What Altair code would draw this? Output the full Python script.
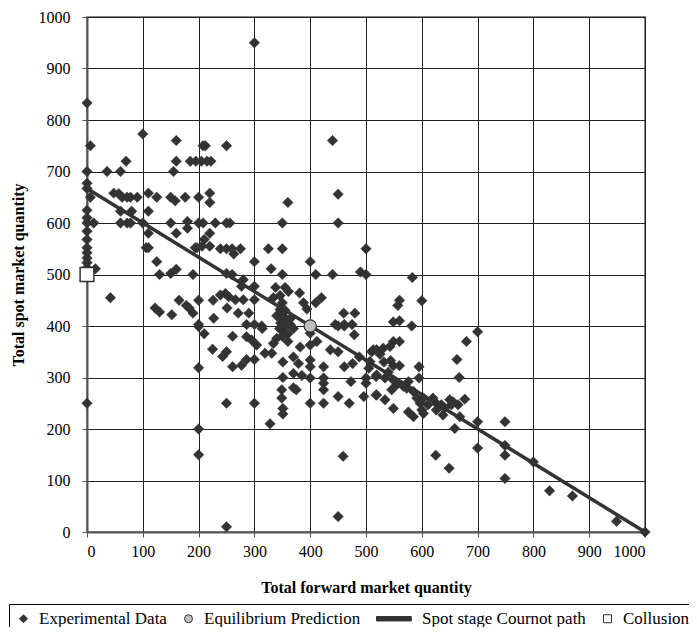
import altair as alt
import pandas as pd

exp_x = [300,0,6,100,160,208,212,250,440,
 70,160,185,195,205,215,222,
 0,36,60,155,450,360,0,0,6,
 48,57,63,72,78,90,
 110,125,150,158,176,200,220,220,
 60,80,110,60,72,78,12,0,
 100,150,180,180,200,208,230,250,256,350,450,
 110,160,220,210,206,
 0,0,0,0,0,0,0,0,0,15,
 106,110,194,197,220,
 239,250,260,263,275,325,350,500,
 125,130,150,160,190,250,260,
 300,330,350,400,410,440,490,500,
 42,122,130,152,165,178,183,190,200,200,
 227,226,239,248,254,251,266,271,280,277,280,290,300,300,
 286,300,313,
 334,338,346,350,355,361,346,352,381,388,394,410,420,
 347,356,364,460,480,445,461,475,
 0,200,210,225,243,250,261,261,277,286,286,300,304,295,314,319,331,
 200,200,200,250,300,250,328,
 334,340,349,351,351,349,349,351,351,370,375,370,379,385,370,382,
 400,400,400,400,400,400,412,424,424,424,424,424,436,450,450,461,473,470,476,479,450,461,
 459,450,
 496,500,500,507,518,518,510,519,
 582,549,700,680,663,667,595,595,549,531,513,532,549,519,534,549,519,534,549,555,567,576,573,546,
 585,591,597,603,600,603,585,576,611,620,626,626,635,638,641,650,653,656,665,677,659,668,
 700,700,749,749,749,749,800,829,870,949,1000,
 625,649,
 583,560,557,600,560,560,543,544,560,
 350,355,345,360,340,365,355,370,360,350,
 488,505,525,540]
exp_y = [950,833,750,773,760,750,750,750,760,
 720,720,720,720,720,720,720,
 700,700,700,700,656,640,677,667,650,
 658,657,650,650,650,650,
 658,650,650,643,650,650,658,640,
 623,623,623,600,600,600,600,600,
 600,600,603,590,600,600,600,600,600,600,600,
 580,580,580,568,555,
 625,610,584,568,552,542,532,523,513,511,
 552,552,552,552,555,
 550,550,550,540,550,550,550,550,
 525,500,502,510,500,502,500,
 525,511,500,525,500,500,505,500,
 455,435,427,422,450,440,435,425,450,403,
 415,450,460,463,457,435,451,425,490,477,451,425,477,451,
 403,403,400,
 455,475,459,445,475,467,432,419,464,445,433,445,455,
 406,406,403,425,425,403,403,403,
 250,399,385,355,341,350,321,380,324,379,335,335,363,373,395,347,347,
 319,200,150,250,250,10,210,
 366,376,392,330,300,276,260,240,229,280,276,308,327,304,340,359,
 386,363,334,321,299,250,370,321,299,289,276,250,354,350,263,321,292,250,327,383,400,400,
 147,30,
 263,289,299,331,302,266,350,354,
 400,408,389,370,335,300,321,299,370,357,354,330,323,305,299,295,266,257,240,286,283,292,279,276,
 273,260,250,260,237,230,224,233,247,260,250,237,247,227,241,257,247,253,247,258,201,224,
 214,163,214,168,149,104,136,80,70,21,0,
 149,124,
 494,450,440,449,410,370,360,333,323,
 410,400,395,385,420,415,430,395,370,380,
 340,318,345,310]

cournot_x = [0, 1000]
cournot_y = [667, 0]
eq_x = [400]
eq_y = [400]
coll_x = [0]
coll_y = [500]

series = ["Experimental Data", "Equilibrium Prediction", "Spot stage Cournot path", "Collusion"]
shapes = ["diamond", "circle", "M-7.5,-0.55H1.2V0.55H-7.5Z", "square"]
fills = ["#333333", "#bfbfbf", "#333333", "#ffffff"]
strokes = ["#333333", "#333333", "#333333", "#333333"]

df_exp = pd.DataFrame({"x": exp_x, "y": exp_y, "series": series[0]})
df_line = pd.DataFrame({"x": cournot_x, "y": cournot_y, "series": series[2]})
df_eq = pd.DataFrame({"x": eq_x, "y": eq_y, "series": series[1]})
df_coll = pd.DataFrame({"x": coll_x, "y": coll_y, "series": series[3]})

FONT = "Liberation Serif"

xs = alt.Scale(domain=[0, 1000], nice=False)
ys = alt.Scale(domain=[0, 1000], nice=False)
xax = alt.Axis(values=list(range(0, 1001, 100)), title="Total forward market quantity", format="d",
               grid=True, gridColor="#222", gridWidth=1, domainColor="#555", domainWidth=2,
               tickColor="#555", tickSize=5, labelPadding=6, titlePadding=20,
               labelFont=FONT, labelFontSize=16, labelColor="#000",
               titleFont=FONT, titleFontSize=16, titleFontWeight="bold", titleColor="#000")
yax = alt.Axis(values=list(range(0, 1001, 100)), title="Total spot market quantity", format="d",
               grid=True, gridColor="#222", gridWidth=1, domainColor="#555", domainWidth=2,
               tickColor="#555", tickSize=5, labelPadding=12, titlePadding=12,
               labelFont=FONT, labelFontSize=16, labelColor="#000",
               titleFont=FONT, titleFontSize=16, titleFontWeight="bold", titleColor="#000")

shape_enc = alt.Shape("series:N", scale=alt.Scale(domain=series, range=shapes),
                      legend=alt.Legend(title=None))
fill_enc = alt.Fill("series:N", scale=alt.Scale(domain=series, range=fills),
                    legend=alt.Legend(title=None))
stroke_enc = alt.Stroke("series:N", scale=alt.Scale(domain=series, range=strokes),
                        legend=alt.Legend(title=None))

pts = alt.Chart(df_exp).mark_point(size=110, opacity=1, filled=True, strokeWidth=0.5).encode(
    x=alt.X("x:Q", scale=xs, axis=xax),
    y=alt.Y("y:Q", scale=ys, axis=yax),
    shape=shape_enc, fill=fill_enc, stroke=stroke_enc)

line = alt.Chart(df_line).mark_line(color="#333333", strokeWidth=3.5).encode(
    x=alt.X("x:Q", scale=xs), y=alt.Y("y:Q", scale=ys))

eq = alt.Chart(df_eq).mark_point(size=150, opacity=1, filled=True, strokeWidth=1.2).encode(
    x=alt.X("x:Q", scale=xs), y=alt.Y("y:Q", scale=ys),
    shape=shape_enc, fill=fill_enc, stroke=stroke_enc)

coll = alt.Chart(df_coll).mark_point(size=190, opacity=1, filled=True, strokeWidth=1.5).encode(
    x=alt.X("x:Q", scale=xs), y=alt.Y("y:Q", scale=ys),
    shape=shape_enc, fill=fill_enc, stroke=stroke_enc)

chart = alt.layer(pts, line, eq, coll).properties(
    width=558, height=515,
    autosize=alt.AutoSizeParams(type="none"),
    padding={"left": 79, "top": 9, "right": 44, "bottom": 95},
    background="white",
).configure_view(stroke="#888", strokeWidth=2).configure_axis(
    labelFont=FONT, titleFont=FONT,
).configure_legend(
    orient="none", legendX=-78, legendY=587, direction="horizontal",
    strokeColor="#000", fillColor="#fff", padding=6,
    labelFont=FONT, labelFontSize=17, labelColor="#000", labelOffset=7, labelLimit=400,
    symbolSize=64, symbolStrokeWidth=1, columnPadding=13,
)

chart.save("out.html", embed_options={"renderer": "svg", "actions": False})
